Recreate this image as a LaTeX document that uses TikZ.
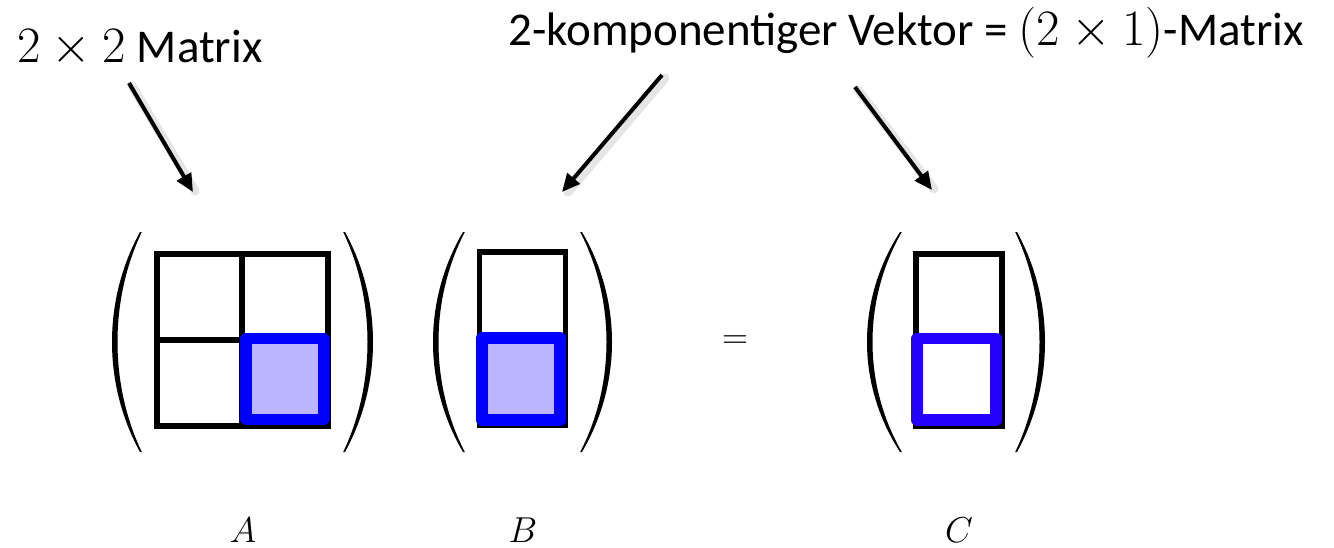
\documentclass[tikz,border=0pt]{standalone}
\usepackage{fix-cm}
\usepackage[no-math]{fontspec}
\setmainfont{Carlito}
\usetikzlibrary{arrows.meta}
\DeclareMathSizes{47}{47}{33}{24}
\DeclareMathSizes{51}{51}{36}{26}
\DeclareMathSizes{36}{36}{25}{18}
\definecolor{cellfill}{RGB}{187,181,255}
\definecolor{bluea}{RGB}{0,0,255}
\definecolor{bluec}{RGB}{36,0,255}
\newcommand\myParen[4]{%
  \fill (#1,232) .. controls ({#1+(#2-#1)*4/3},300) and ({#1+(#2-#1)*4/3},384) .. (#1,452)
     -- (#3,452) .. controls ({#3+(#4-#3)*4/3},384) and ({#3+(#4-#3)*4/3},300) .. (#3,232) -- cycle;}
\newcommand\bigmath[1]{{\fontsize{51}{60}\selectfont$#1$}}
\tikzset{
  gridline/.style={line width=6pt, black, line join=miter},
  selbox/.style={line width=11.5pt, bluea, line join=round, fill=cellfill},
  resbox/.style={line width=11.5pt, bluec, line join=round, fill=white},
  toptext/.style={inner sep=0pt, font=\fontsize{47}{56}\selectfont},
  lowmath/.style={inner sep=0pt, font=\fontsize{36}{43}\selectfont},
  pointer/.style={line width=4pt, black, -{Triangle[length=18pt,width=16pt]}},
  pshadow/.style={line width=9pt, black!40, opacity=0.25, line cap=round},
}
\begin{document}
\begin{tikzpicture}[x=1pt,y=-1pt]
\useasboundingbox[fill=white] (0,0) rectangle (1334,547);

% texts
\node[toptext, anchor=base west] (tA) at (17,62) {\bigmath{2\times 2} Matrix};
\node[toptext, anchor=base west] (tB) at (508,45) {2-komponentiger Vektor = \bigmath{(2\times 1)}-Matrix};

% arrow coordinates
\coordinate (a1s) at (129,83);  \coordinate (a1e) at (193,192);
\coordinate (a2s) at (662,75);  \coordinate (a2e) at (562,192);
\coordinate (a3s) at (855,87);  \coordinate (a3e) at (932,190);
\coordinate (s1s) at (132,86);  \coordinate (s1e) at (195,191);
\coordinate (s2s) at (665,78);  \coordinate (s2e) at (568,192);
\coordinate (s3s) at (858,90);  \coordinate (s3e) at (934,189);
\draw[pshadow] (s1s) -- (s1e);
\draw[pshadow] (s2s) -- (s2e);
\draw[pshadow] (s3s) -- (s3e);
\draw[pointer] (a1s) -- (a1e);
\draw[pointer] (a2s) -- (a2e);
\draw[pointer] (a3s) -- (a3e);

% matrix A
\draw[gridline] (157,254) rectangle (328,426);
\draw[gridline] (242,254) -- (242,426);
\draw[gridline] (157,340) -- (328,340);
\draw[selbox] (246,338.5) rectangle (323.5,419.5);
\myParen{140}{112}{141.8}{117.5}
\myParen{345}{373}{343.2}{367.5}

% vector B
\draw[gridline, line width=5.5pt] (479.5,252) rectangle (565.5,425.5);
\draw[selbox] (482,338) rectangle (560,420);
\myParen{463}{433}{464.8}{438.5}
\myParen{582}{612}{580.2}{606.5}

% equals
\node[lowmath, anchor=base] (eq) at (735,348) {$=$};

% vector C
\draw[gridline] (916,254) rectangle (1002,426);
\draw[resbox] (917,338.5) rectangle (996,420);
\myParen{900}{867}{901.8}{872.5}
\myParen{1017}{1045}{1015.2}{1039.5}

% labels
\node[lowmath, anchor=base] (lA) at (243,542) {$A$};
\node[lowmath, anchor=base] (lB) at (523,542) {$B$};
\node[lowmath, anchor=base] (lC) at (959,542) {$C$};
\end{tikzpicture}
\end{document}
